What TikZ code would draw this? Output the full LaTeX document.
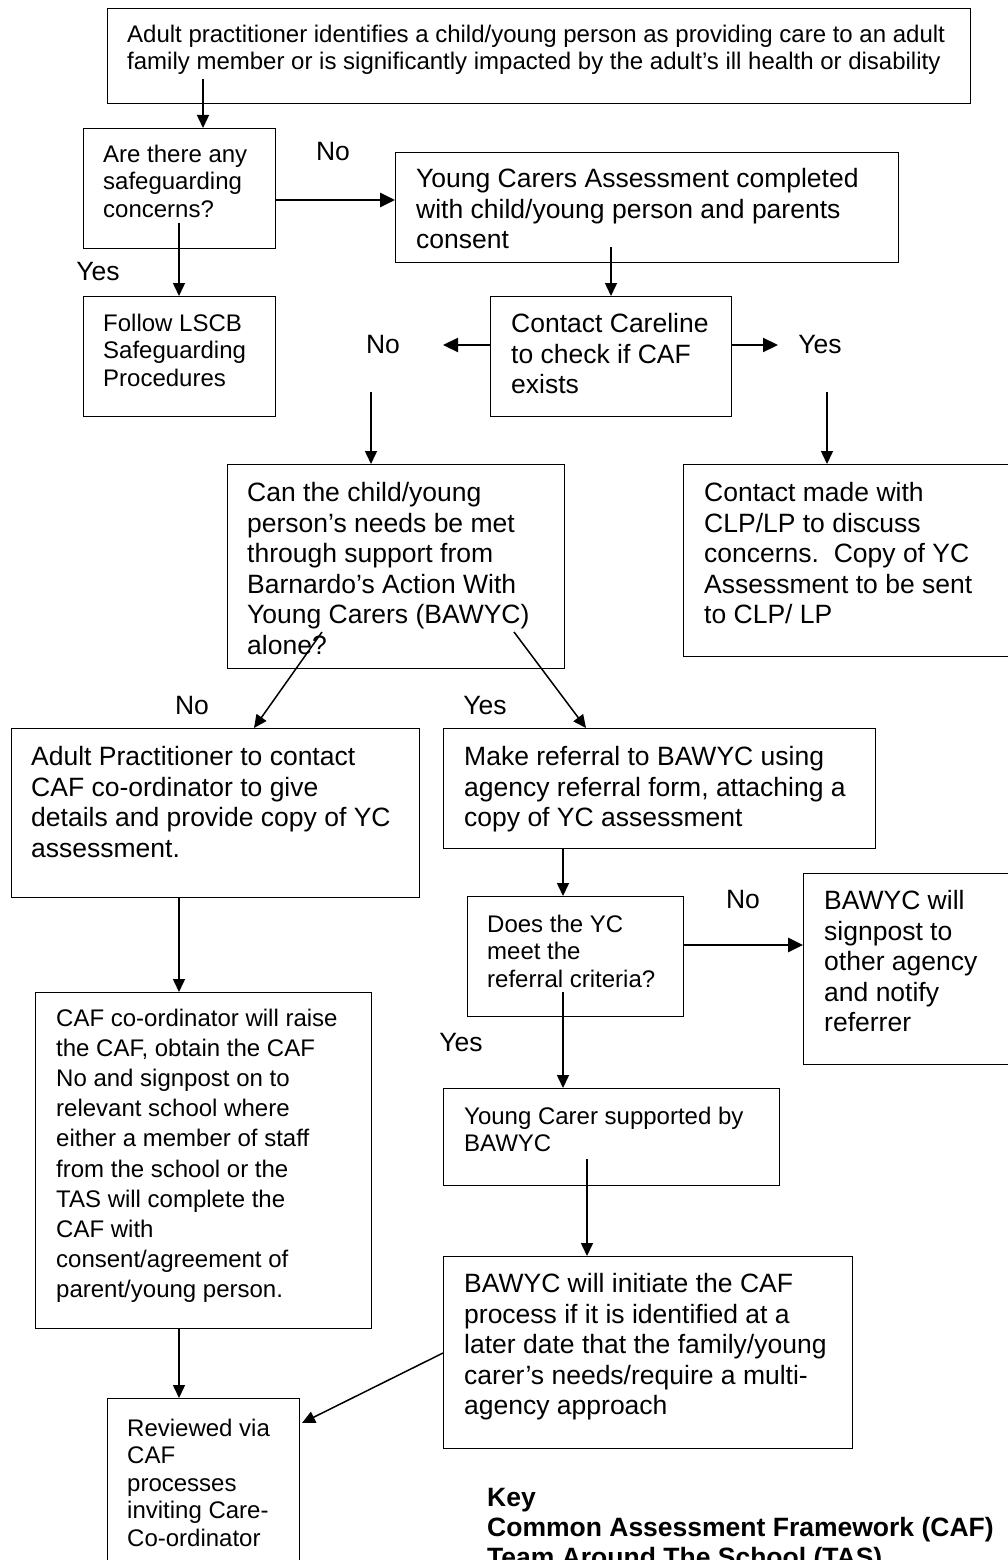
\documentclass[tikz,border=0pt]{standalone}
\usepackage{fontspec}
\setmainfont{Liberation Sans}
\usetikzlibrary{arrows.meta,calc}
\begin{document}
\begin{tikzpicture}[x=1pt,y=-1pt,
  box/.style={draw, line width=1.4pt, inner sep=0pt, anchor=north west},
  tl/.style={anchor=north west, inner sep=0pt, align=left},
  big/.style={font=\fontsize{26.5}{30.5}\selectfont},
  small/.style={font=\fontsize{24}{27.5}\selectfont},
  cafs/.style={font=\fontsize{24}{30.2}\selectfont},
  keyf/.style={font=\bfseries\fontsize{26.5}{30}\selectfont},
  lab/.style={inner sep=0pt, font=\fontsize{26.5}{30}\selectfont},
  arr/.style={-{Triangle[length=13pt,width=12pt]}, line width=1.5pt},
  tarr/.style={-{Triangle[length=15pt,width=14pt]}, line width=2.8pt}]
\clip (0,0) rectangle (1008,1560);
\fill[white] (0,0) rectangle (1008,1560);

% boxes
\node[box, minimum width=863, minimum height=95] (top) at (107,8) {};
\node[box, minimum width=192, minimum height=120] (safe) at (83,128) {};
\node[box, minimum width=503, minimum height=110] (yca) at (395,152) {};
\node[box, minimum width=192, minimum height=120] (lscb) at (83,296) {};
\node[box, minimum width=241, minimum height=120] (care) at (490,296) {};
\node[box, minimum width=337, minimum height=204] (bawq) at (227,464) {};
\node[box, minimum width=340, minimum height=192] (clp) at (683,464) {};
\node[box, minimum width=408, minimum height=169] (adp) at (11,728) {};
\node[box, minimum width=432, minimum height=120] (mref) at (443,728) {};
\node[box, minimum width=216, minimum height=120] (dyc) at (467,896) {};
\node[box, minimum width=220, minimum height=191] (sign) at (803,873) {};
\node[box, minimum width=336, minimum height=336] (cafc) at (35,992) {};
\node[box, minimum width=336, minimum height=97] (ycs) at (443,1088) {};
\node[box, minimum width=409, minimum height=192] (init) at (443,1256) {};
\node[box, minimum width=192, minimum height=200] (rev) at (107,1398) {};

% texts
\node[tl, small] (ttop) at (127,24.5) {Adult practitioner identifies a child/young person as providing care to an adult\\family member or is significantly impacted by the adult’s ill health or disability};
\node[tl, small] (tsafe) at (103,144.5) {Are there any\\safeguarding\\concerns?};
\node[tl, big] (tyca) at (416,168.5) {Young Carers Assessment completed\\with child/young person and parents\\consent};
\node[tl, small] (tlscb) at (103,313.5) {Follow LSCB\\Safeguarding\\Procedures};
\node[tl, big] (tcare) at (511,313.5) {Contact Careline\\to check if CAF\\exists};
\node[tl, big] (tbawq) at (247,482.5) {Can the child/young\\person’s needs be met\\through support from\\Barnardo’s Action With\\Young Carers (BAWYC)\\alone?};
\node[tl, big] (tclp) at (704,482.5) {Contact made with\\CLP/LP to discuss\\concerns.\ \ Copy of YC\\Assessment to be sent\\to CLP/ LP};
\node[tl, big] (tadp) at (31,746.5) {Adult Practitioner to contact\\CAF co-ordinator to give\\details and provide copy of YC\\assessment.};
\node[tl, big] (tmref) at (464,746.5) {Make referral to BAWYC using\\agency referral form, attaching a\\copy of YC assessment};
\node[tl, small] (tdyc) at (487,914.5) {Does the YC\\meet the\\referral criteria?};
\node[tl, big] (tsign) at (824,890.5) {BAWYC will\\signpost to\\other agency\\and notify\\referrer};
\node[tl, cafs] (tcafc) at (56,1008.5) {CAF co-ordinator will raise\\the CAF, obtain the CAF\\No and signpost on to\\relevant school where\\either a member of staff\\from the school or the\\TAS will complete the\\CAF with\\consent/agreement of\\parent/young person.};
\node[tl, small] (tycs) at (464,1106.5) {Young Carer supported by\\BAWYC};
\node[tl, big] (tinit) at (464,1273.5) {BAWYC will initiate the CAF\\process if it is identified at a\\later date that the family/young\\carer’s needs/require a multi-\\agency approach};
\node[tl, small] (trev) at (127,1418.5) {Reviewed via\\CAF\\processes\\inviting Care-\\Co-ordinator};
\node[tl, keyf] (tkey) at (487,1488.5) {Key\\Common Assessment Framework (CAF)\\Team Around The School (TAS)};

% labels
\node[lab] (l1) at (333,152) {No};
\node[lab] (l2) at (98,272) {Yes};
\node[lab] (l3) at (383,345) {No};
\node[lab] (l4) at (820,345) {Yes};
\node[lab] (l5) at (192,706) {No};
\node[lab] (l6) at (485,706) {Yes};
\node[lab] (l7) at (743,900) {No};
\node[lab] (l8) at (461,1043) {Yes};

% connector start points
\coordinate (s1) at (203,79);
\coordinate (s3) at (179,223);
\coordinate (s4) at (611,247);
\coordinate (e5) at (443,345);
\coordinate (e6) at (778,345);
\coordinate (s7) at (371,392);
\coordinate (s8) at (827,392);
\coordinate (s9) at (322,632);
\coordinate (e9) at (254,728);
\coordinate (s10) at (514,632);
\coordinate (e10) at (586,728);
\coordinate (s13) at (563,992);
\coordinate (s15) at (587,1159);
\coordinate (s17) at (443,1353);
\coordinate (e17) at (302,1423);

% connectors
\draw[arr] (s1) -- (s1 |- safe.north);
\draw[tarr] (safe.east |- 0,200) -- (yca.west |- 0,200);
\draw[arr] (s3) -- (s3 |- lscb.north);
\draw[arr] (s4) -- (s4 |- care.north);
\draw[tarr, line width=2.2pt] (care.west |- e5) -- (e5);
\draw[tarr, line width=2.2pt] (care.east |- e6) -- (e6);
\draw[arr] (s7) -- (s7 |- bawq.north);
\draw[arr] (s8) -- (s8 |- clp.north);
\draw[arr] (s9) -- (e9);
\draw[arr] (s10) -- (e10);
\draw[arr] (mref.south -| 563,0) -- (563,896);
\draw[tarr] (dyc.east |- 0,945) -- (sign.west |- 0,945);
\draw[arr] (s13) -- (s13 |- ycs.north);
\draw[arr] (adp.south -| 179,0) -- (cafc.north -| 179,0);
\draw[arr] (s15) -- (s15 |- init.north);
\draw[arr] (cafc.south -| 179,0) -- (rev.north -| 179,0);
\draw[arr] (s17) -- (e17);
\end{tikzpicture}
\end{document}
